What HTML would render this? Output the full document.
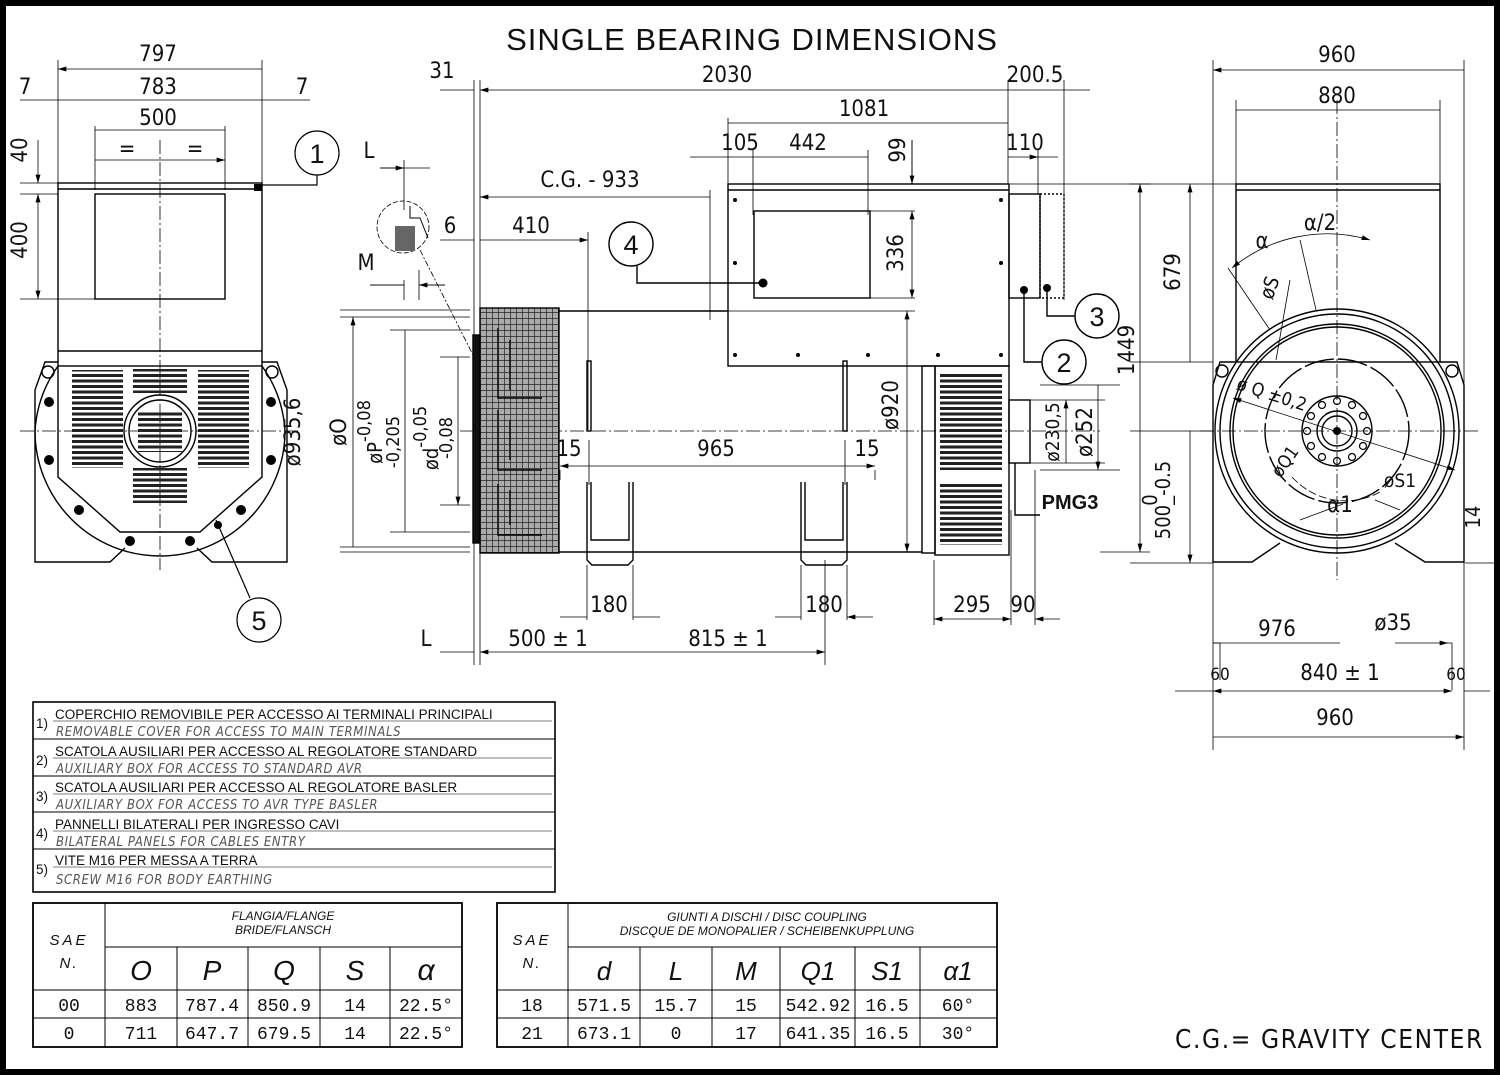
<!DOCTYPE html>
<html><head><meta charset="utf-8"><style>
html,body{margin:0;padding:0;background:#fff}
svg{display:block}
.t{font-family:"DejaVu Sans Condensed","Liberation Sans Narrow","Liberation Sans",sans-serif;fill:#111}
.s{font-family:"Liberation Sans",sans-serif;fill:#111}
</style></head><body>
<svg width="1500" height="1075" viewBox="0 0 1500 1075" xmlns="http://www.w3.org/2000/svg">
<defs>
<pattern id="vent" width="10" height="5.5" patternUnits="userSpaceOnUse"><rect width="10" height="3" fill="#222"/></pattern>
<pattern id="hatch" width="6" height="6" patternUnits="userSpaceOnUse"><rect width="6" height="6" fill="#aaa"/><path d="M0 0H6M0 0V6" stroke="#222" stroke-width="1.4"/></pattern>
<marker id="a" viewBox="0 0 10 6" refX="10" refY="3" markerWidth="12" markerHeight="5" orient="auto-start-reverse" markerUnits="userSpaceOnUse"><path d="M0 0L10 3L0 6z" fill="#000"/></marker>
</defs>
<rect x="3" y="3" width="1494" height="1069" fill="#fff" stroke="#000" stroke-width="6"/>
<text x="752" y="50" class="s" font-size="31" letter-spacing="1" text-anchor="middle">SINGLE BEARING DIMENSIONS</text>

<g stroke="#000" fill="none" stroke-width="0.8">
<path d="M58 60V183M262 60V183M95 126V190M225 126V190"/>
<path d="M58 69H262M58 100H262M95 130H225M95 160H225" marker-start="url(#a)" marker-end="url(#a)"/>
<path d="M20 100H58M262 100H310"/>
<path d="M20 183H58M20 194H58M20 299H95"/>
<path d="M38 194V299" marker-start="url(#a)" marker-end="url(#a)"/>
<path d="M38 140V183" marker-end="url(#a)"/>
<path d="M160 140V570" stroke-dasharray="14 3 2 3"/>
<path d="M20 431H300" stroke-dasharray="14 3 2 3"/>
</g>
<g stroke="#000" fill="none" stroke-width="1.4">
<rect x="58" y="183" width="204" height="183"/>
<path d="M58 189H262M58 351H262"/>
<rect x="95" y="194" width="130" height="105"/>
<path d="M58 366V477L120 532H200L262 477V366"/>
<path d="M58 366A125 125 0 0 0 35 431A125 125 0 0 0 160 556A125 125 0 0 0 285 431A125 125 0 0 0 262 366"/>
<path d="M35 390V488M35 488V562H110L125 548M287 390V562H212L197 548M35 390L45 362H58M287 390L277 362H262"/>
<circle cx="48" cy="372" r="6"/><circle cx="272" cy="372" r="6"/>
<circle cx="160" cy="431" r="36"/><circle cx="160" cy="431" r="31"/>
</g>
<g fill="url(#vent)">
<rect x="72" y="370" width="51" height="98"/><rect x="133" y="369" width="54" height="24"/>
<rect x="198" y="370" width="51" height="98"/><rect x="133" y="468" width="54" height="35"/>
<rect x="138" y="410" width="44" height="42"/>
</g>
<g fill="#000">
<circle cx="49" cy="402" r="5"/><circle cx="49" cy="460" r="5"/><circle cx="271" cy="402" r="5"/><circle cx="271" cy="460" r="5"/>
<circle cx="79" cy="510" r="5"/><circle cx="241" cy="510" r="5"/><circle cx="130" cy="541" r="5"/><circle cx="190" cy="541" r="5"/>
<circle cx="218" cy="525" r="4"/><rect x="254" y="184" width="8" height="7"/>
</g>
<g class="t" font-size="22" text-anchor="middle">
<text x="158" y="61">797</text><text x="158" y="94">783</text><text x="25" y="94">7</text><text x="302" y="94">7</text>
<text x="158" y="125">500</text><text x="127" y="156">=</text><text x="195" y="156">=</text>
<text transform="translate(27,150) rotate(-90)">40</text><text transform="translate(27,240) rotate(-90)">400</text>
<text transform="translate(300,432) rotate(-90)">ø935,6</text>
</g>
<g stroke="#000" fill="none" stroke-width="1.2">
<circle cx="317" cy="153" r="22"/><path d="M317 175V185H262"/>
<circle cx="259" cy="620" r="22"/><path d="M216 520L250 598"/>
</g>
<text x="317" y="163" class="s" font-size="27" text-anchor="middle">1</text>
<text x="259" y="630" class="s" font-size="27" text-anchor="middle">5</text>

<g stroke="#000" fill="none" stroke-width="0.8">
<path d="M474 80V665M480 80V665M1008 80V184M1064 80V300M728 118V184M753 150V215M868 150V215M1038 150V194M912 140V184"/>
<path d="M440 90H474M1090 90H1064M1008 90H1064"/>
<path d="M480 90H1008M728 123H1008M728 157H753M753 157H868M1008 157H1038" marker-start="url(#a)" marker-end="url(#a)"/>
<path d="M690 157H728M1058 157H1038"/>
<path d="M912 140V184" marker-end="url(#a)"/>
<path d="M480 197H710M480 240H588" marker-start="url(#a)" marker-end="url(#a)"/>
<path d="M440 240H474M710 190V320M588 232V430"/>
<path d="M870 211H915M870 298H915M708 311H915"/>
<path d="M912 211V298" marker-start="url(#a)" marker-end="url(#a)"/>
<path d="M907 311V552" marker-start="url(#a)" marker-end="url(#a)"/>
<path d="M340 310H470M340 317H470M390 330H470M440 357H470M440 505H470M390 532H470M340 547H470M340 552H470"/>
<path d="M353 317V547M405 330V532M458 357V505" marker-start="url(#a)" marker-end="url(#a)"/>
<path d="M560 470V480M589 440V485M845 440V485M875 470V480"/>
<path d="M560 466H589M589 466H845M845 466H875" marker-start="url(#a)" marker-end="url(#a)"/>
<path d="M460 431H1100" stroke-dasharray="14 3 2 3"/>
<path d="M587 565V620M633 565V620M801 565V620M847 565V620M934 560V625M1011 510V625M1035 470V625"/>
<path d="M560 617H587M660 617H633M775 617H801M873 617H847" marker-end="url(#a)"/>
<path d="M934 619H1011" marker-start="url(#a)" marker-end="url(#a)"/><path d="M1060 619H1035" marker-end="url(#a)"/>
<path d="M480 652H587M587 652H825" marker-start="url(#a)" marker-end="url(#a)"/><path d="M825 560V665M440 652H474"/>
<path d="M1030 400H1105M1030 463H1105M1040 385H1120M1040 470H1120"/>
<path d="M1066 400V463M1098 385V470" marker-start="url(#a)" marker-end="url(#a)"/>
<path d="M1010 184H1150M1100 552H1150"/>
<path d="M1140 184V552" marker-start="url(#a)" marker-end="url(#a)"/>
<circle cx="403" cy="227" r="26" stroke-dasharray="5 2"/>
<path d="M420 250L473 355" stroke-dasharray="6 2 2 2"/>
<path d="M404 160V210M380 168H430M404 280V300M419 270V300M370 285H404M419 285H445" />
<path d="M370 285H404M445 285H419" marker-end="url(#a)"/><path d="M380 168H404" marker-end="url(#a)"/>
</g>
<rect x="395" y="226" width="20" height="25" fill="#666"/>
<path d="M410 206V218H420L428 238" stroke="#000" fill="none"/>
<g stroke="#000" fill="none" stroke-width="1.4">
<rect x="480" y="308" width="79" height="245" fill="url(#hatch)"/>
<rect x="473" y="335" width="7" height="208" fill="#111"/>
<path d="M559 311H728M559 552H922"/>
<rect x="728" y="184" width="281" height="182"/><path d="M728 190H1009"/>
<rect x="754" y="211" width="116" height="87"/>
<rect x="1009" y="194" width="31" height="104"/>
<rect x="1040" y="194" width="24" height="104" stroke-dasharray="2 2"/>
<rect x="922" y="366" width="13" height="187"/>
<rect x="935" y="366" width="74" height="189"/>
<rect x="1009" y="400" width="21" height="63"/><path d="M1015 463V515H1040"/>
<rect x="587" y="361" width="4" height="70"/><rect x="843" y="361" width="4" height="70"/>
<path d="M587 482V560L592 565H628L633 560V482M591 482V540H629V482M801 482V560L806 565H842L847 560V482M805 482V540H843V482"/>
<path d="M498 328V398H542M498 410V470H542M498 484V535H542M510 340V390M510 420V460M510 490V525"/>
<circle cx="631" cy="244" r="22"/><path d="M637 266V283H763"/>
<circle cx="1097" cy="316" r="22"/><path d="M1047 288V316H1075"/>
<circle cx="1064" cy="362" r="22"/><path d="M1024 290V362H1042"/>
</g>
<g fill="url(#vent)"><rect x="940" y="373" width="62" height="97"/><rect x="940" y="483" width="62" height="62"/></g>
<g fill="#000"><circle cx="763" cy="283" r="4.5"/><circle cx="1024" cy="290" r="4"/><circle cx="1047" cy="288" r="4"/>
<circle cx="735" cy="200" r="2"/><circle cx="1001" cy="200" r="2"/><circle cx="735" cy="263" r="2"/><circle cx="1001" cy="263" r="2"/><circle cx="735" cy="355" r="2"/><circle cx="798" cy="355" r="2"/><circle cx="868" cy="355" r="2"/><circle cx="938" cy="355" r="2"/><circle cx="1001" cy="355" r="2"/></g>
<g class="t" font-size="22" text-anchor="middle">
<text x="442" y="78">31</text><text x="727" y="82">2030</text><text x="1035" y="82">200.5</text>
<text x="864" y="116">1081</text><text x="740" y="150">105</text><text x="808" y="150">442</text><text x="1025" y="150">110</text>
<text transform="translate(905,150) rotate(-90)">99</text>
<text x="369" y="158">L</text><text x="590" y="187">C.G. - 933</text>
<text x="450" y="233">6</text><text x="531" y="233">410</text><text x="366" y="270">M</text>
<text transform="translate(903,253) rotate(-90)">336</text>
<text transform="translate(346,432) rotate(-90)">øO</text>
<text transform="translate(382,432) rotate(-90)" font-size="20">øP<tspan font-size="18" dy="-12">-0,08</tspan></text>
<text transform="translate(399,442) rotate(-90)" font-size="18">-0,205</text>
<text transform="translate(438,438) rotate(-90)" font-size="20">ød<tspan font-size="18" dy="-12">-0,05</tspan></text>
<text transform="translate(452,438) rotate(-90)" font-size="18">-0,08</text>
<text transform="translate(898,405) rotate(-90)">ø920</text>
<text transform="translate(1059,432) rotate(-90)" font-size="19">ø230,5</text>
<text transform="translate(1092,432) rotate(-90)">ø252</text>
<text transform="translate(1134,350) rotate(-90)">1449</text>
<text x="569" y="456">15</text><text x="716" y="456">965</text><text x="867" y="456">15</text>
<text x="609" y="612">180</text><text x="824" y="612">180</text>
<text x="972" y="612">295</text><text x="1023" y="612">90</text>
<text x="426" y="646">L</text><text x="548" y="646">500 ± 1</text><text x="728" y="646">815 ± 1</text>
</g>
<text x="1070" y="509" class="s" font-size="20" text-anchor="middle" font-weight="bold">PMG3</text>
<g class="s" font-size="27" text-anchor="middle"><text x="631" y="254">4</text><text x="1097" y="326">3</text><text x="1064" y="372">2</text></g>

<g stroke="#000" fill="none" stroke-width="0.8">
<path d="M1213 60V750M1464 60V750M1236 100V184M1440 100V184M1220 643V680M1452 643V690"/>
<path d="M1213 70H1464M1236 110H1440M1213 737H1464" marker-start="url(#a)" marker-end="url(#a)"/>
<path d="M1213 691H1452" marker-start="url(#a)" marker-end="url(#a)"/><path d="M1175 691H1213M1490 691H1464"/>
<path d="M1213 643H1340M1395 643H1452" /><path d="M1220 643H1213M1440 643H1448" marker-end="url(#a)"/>
<path d="M1130 184H1236M1130 362H1213M1130 431H1213M1130 563H1213M1465 563H1497"/>
<path d="M1190 184V362M1190 431V563" marker-start="url(#a)" marker-end="url(#a)"/>
<path d="M1337 100V580M1200 431H1480" stroke-dasharray="14 3 2 3"/>
<path d="M1232 268A150 150 0 0 1 1370 240" marker-start="url(#a)" marker-end="url(#a)"/>
<path d="M1228 268L1270 330M1300 240L1316 310M1290 280L1276 360"/>
<path d="M1233 398L1455 470" marker-start="url(#a)" marker-end="url(#a)"/>
<path d="M1292 477A72 72 0 0 0 1380 492" stroke-dasharray="8 3"/>
<path d="M1343 504L1300 520M1375 500L1400 510"/>
</g>
<g stroke="#000" fill="none" stroke-width="1.4">
<rect x="1236" y="184" width="204" height="178"/><path d="M1236 190H1440"/>
<path d="M1213 487V562H1252L1280 543M1464 487V562H1425L1395 543M1213 487V385L1220 362H1236M1464 487V385L1457 362H1440"/>
<circle cx="1222" cy="371" r="6"/><circle cx="1452" cy="371" r="6"/>
<circle cx="1337" cy="431" r="122"/><circle cx="1337" cy="431" r="117"/>
<circle cx="1337" cy="431" r="107"/><circle cx="1337" cy="431" r="104"/>
<circle cx="1337" cy="431" r="72" stroke-dasharray="30 4"/>
<circle cx="1337" cy="431" r="35"/><circle cx="1337" cy="431" r="20"/><circle cx="1337" cy="431" r="15"/>
</g>
<g fill="none" stroke="#000" stroke-width="1.2">
<circle cx="1367" cy="431" r="3.5"/><circle cx="1363" cy="446" r="3.5"/><circle cx="1352" cy="457" r="3.5"/><circle cx="1337" cy="461" r="3.5"/><circle cx="1322" cy="457" r="3.5"/><circle cx="1311" cy="446" r="3.5"/><circle cx="1307" cy="431" r="3.5"/><circle cx="1311" cy="416" r="3.5"/><circle cx="1322" cy="405" r="3.5"/><circle cx="1337" cy="401" r="3.5"/><circle cx="1352" cy="405" r="3.5"/><circle cx="1363" cy="416" r="3.5"/>
</g>
<circle cx="1337" cy="431" r="4" fill="#000"/>
<g class="t" font-size="22" text-anchor="middle">
<text x="1337" y="62">960</text><text x="1337" y="103">880</text>
<text transform="translate(1180,272) rotate(-90)">679</text>
<text transform="translate(1157,500) rotate(-90)" font-size="20">0</text>
<text transform="translate(1170,500) rotate(-90)" font-size="20">500_-0.5</text>
<text transform="translate(1480,517) rotate(-90)" font-size="20">14</text>
<text x="1262" y="248">α</text><text x="1320" y="230">α/2</text>
<text transform="translate(1276,290) rotate(-70)" font-size="20">øS</text>
<text transform="translate(1270,400) rotate(18)" font-size="18">ø Q ±0,2</text>
<text transform="translate(1290,465) rotate(-55)" font-size="18">øQ1</text>
<text x="1400" y="487" font-size="19">øS1</text><text x="1340" y="512">α1</text>
<text x="1277" y="636">976</text><text x="1393" y="630">ø35</text>
<text x="1220" y="680" font-size="17">60</text><text x="1340" y="680">840 ± 1</text><text x="1456" y="680" font-size="17">60</text>
<text x="1335" y="725">960</text>
</g>

<g stroke="#000" fill="none">
<rect x="33" y="702" width="522" height="190" stroke-width="1.6"/>
<path d="M33 739H555M33 776H555M33 812H555M33 849H555" stroke-width="1"/>
<path d="M53 721H552M53 758H552M53 794H552M53 831H552M53 867H552" stroke-width="0.8" stroke="#555"/>
</g>
<g class="s" font-size="13.5">
<text x="36" y="728">1)</text><text x="36" y="765">2)</text><text x="36" y="801">3)</text><text x="36" y="838">4)</text><text x="36" y="874">5)</text>
<text x="55" y="719">COPERCHIO REMOVIBILE PER ACCESSO AI TERMINALI PRINCIPALI</text>
<text x="55" y="756">SCATOLA AUSILIARI PER ACCESSO AL REGOLATORE STANDARD</text>
<text x="55" y="792">SCATOLA AUSILIARI PER ACCESSO AL REGOLATORE BASLER</text>
<text x="55" y="829">PANNELLI BILATERALI PER INGRESSO CAVI</text>
<text x="55" y="865">VITE M16 PER MESSA A TERRA</text>
</g>
<g class="t" font-size="13" font-style="italic" style="fill:#555" letter-spacing="0.6">
<text x="56" y="736">REMOVABLE COVER  FOR ACCESS TO MAIN TERMINALS</text>
<text x="56" y="773">AUXILIARY BOX FOR ACCESS TO STANDARD AVR</text>
<text x="56" y="809">AUXILIARY BOX FOR ACCESS TO AVR TYPE BASLER</text>
<text x="56" y="846">BILATERAL PANELS FOR CABLES ENTRY</text>
<text x="56" y="884">SCREW M16 FOR BODY EARTHING</text>
</g>

<g stroke="#000" fill="none" stroke-width="1">
<rect x="33" y="903" width="429" height="144" stroke-width="1.8"/>
<path d="M105 903V1047M105 947H462M33 990H462M33 1018H462M177 947V1047M248 947V1047M320 947V1047M390 947V1047"/>
<rect x="497" y="903" width="500" height="144" stroke-width="1.8"/>
<path d="M568 903V1047M568 947H997M497 990H997M497 1018H997M640 947V1047M712 947V1047M780 947V1047M855 947V1047M920 947V1047"/>
</g>
<g class="s" font-style="italic" text-anchor="middle">
<text x="69" y="945" font-size="15" letter-spacing="3">SAE</text><text x="69" y="968" font-size="15" letter-spacing="2">N.</text>
<text x="283" y="920" font-size="12">FLANGIA/FLANGE</text><text x="283" y="934" font-size="12">BRIDE/FLANSCH</text>
<text x="141" y="980" font-size="28">O</text><text x="212" y="980" font-size="28">P</text><text x="284" y="980" font-size="28">Q</text><text x="355" y="980" font-size="28">S</text><text x="426" y="980" font-size="30">α</text>
<text x="532" y="945" font-size="15" letter-spacing="3">SAE</text><text x="532" y="968" font-size="15" letter-spacing="2">N.</text>
<text x="767" y="921" font-size="12">GIUNTI A DISCHI / DISC COUPLING</text><text x="767" y="935" font-size="12">DISCQUE DE MONOPALIER / SCHEIBENKUPPLUNG</text>
<text x="604" y="980" font-size="26">d</text><text x="676" y="980" font-size="26">L</text><text x="746" y="980" font-size="26">M</text><text x="818" y="980" font-size="26">Q1</text><text x="887" y="980" font-size="26">S1</text><text x="958" y="980" font-size="26">α1</text>
</g>
<g class="t" font-size="18" text-anchor="middle" style="font-family:'Liberation Mono','DejaVu Sans Mono',monospace">
<text x="69" y="1011">00</text><text x="141" y="1011">883</text><text x="212" y="1011">787.4</text><text x="284" y="1011">850.9</text><text x="355" y="1011">14</text><text x="426" y="1011">22.5°</text>
<text x="69" y="1039">0</text><text x="141" y="1039">711</text><text x="212" y="1039">647.7</text><text x="284" y="1039">679.5</text><text x="355" y="1039">14</text><text x="426" y="1039">22.5°</text>
<text x="532" y="1011">18</text><text x="604" y="1011">571.5</text><text x="676" y="1011">15.7</text><text x="746" y="1011">15</text><text x="818" y="1011">542.92</text><text x="887" y="1011">16.5</text><text x="958" y="1011">60°</text>
<text x="532" y="1039">21</text><text x="604" y="1039">673.1</text><text x="676" y="1039">0</text><text x="746" y="1039">17</text><text x="818" y="1039">641.35</text><text x="887" y="1039">16.5</text><text x="958" y="1039">30°</text>
</g>
<text x="1175" y="1048" class="t" font-size="26" letter-spacing="1.6">C.G.= GRAVITY CENTER</text>
</svg>
</body></html>
